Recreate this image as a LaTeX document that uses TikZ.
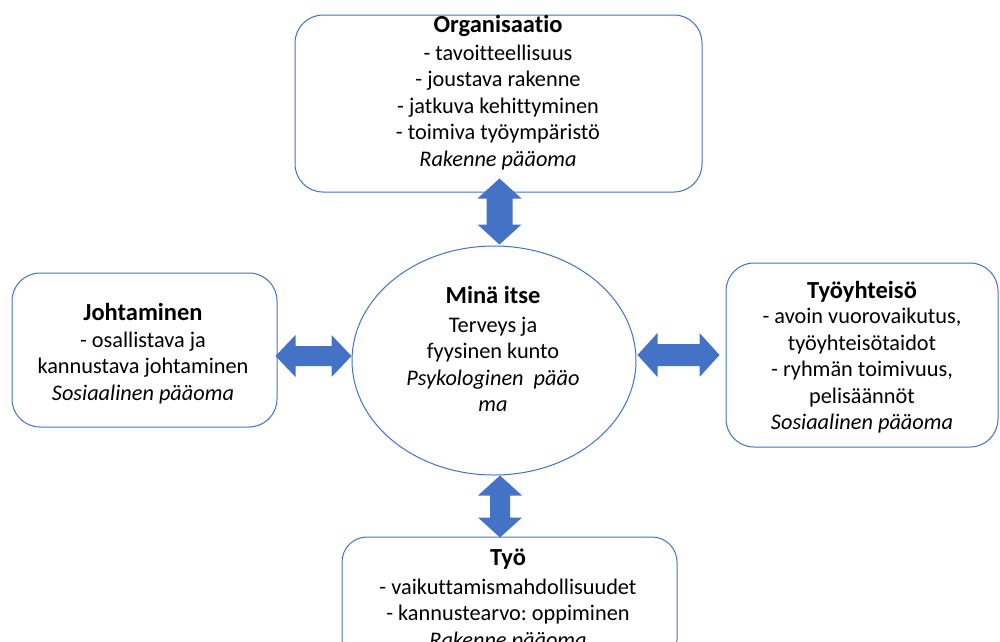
\documentclass[tikz,border=0pt]{standalone}
\usepackage{fontspec}
\setmainfont{Carlito}[Ligatures=NoCommon]
\frenchspacing
\usetikzlibrary{calc,shapes.geometric}
\definecolor{edge}{RGB}{68,114,196}
\definecolor{arr}{RGB}{68,114,196}
\newcommand\vdblarrow[5]{% top, bottom, head half, shaft half, head length
  \fill[arr] let \p1=(#1), \p2=(#2) in
    (\x1,\y1) -- (\x1+#3pt,\y1-#5pt) -- (\x1+#4pt,\y1-#5pt) -- (\x1+#4pt,\y2+#5pt)
    -- (\x1+#3pt,\y2+#5pt) -- (\x1,\y2) -- (\x1-#3pt,\y2+#5pt) -- (\x1-#4pt,\y2+#5pt)
    -- (\x1-#4pt,\y1-#5pt) -- (\x1-#3pt,\y1-#5pt) -- cycle;}
\newcommand\hdblarrow[5]{% left, right, head half, shaft half, head length
  \fill[arr] let \p1=(#1), \p2=(#2) in
    (\x1,\y1) -- (\x1+#5pt,\y1+#3pt) -- (\x1+#5pt,\y1+#4pt) -- (\x2-#5pt,\y1+#4pt)
    -- (\x2-#5pt,\y1+#3pt) -- (\x2,\y1) -- (\x2-#5pt,\y1-#3pt) -- (\x2-#5pt,\y1-#4pt)
    -- (\x1+#5pt,\y1-#4pt) -- (\x1+#5pt,\y1-#3pt) -- cycle;}
\newcommand\ttl[1]{{\fontsize{24.5}{26.5}\selectfont\bfseries\rule{0pt}{20pt}#1}}
\begin{document}
\begin{tikzpicture}[x=1pt,y=-1pt,
  box/.style={draw=edge, line width=1pt, rounded corners=28pt, fill=white, inner sep=0pt},
  oval/.style={draw=edge, line width=1pt, ellipse, fill=white, inner sep=0pt},
  txt/.style={align=center, inner sep=0pt, anchor=north, font=\fontsize{22.3}{26.5}\selectfont}]
\useasboundingbox (0,0) rectangle (1000,641);
\clip (0,0) rectangle (1000,641);
\fill[white] (0,0) rectangle (1000,641);

% boxes
\node[box, minimum width=407, minimum height=177] (org) at (498.5,103.5) {};
\node[box, minimum width=265, minimum height=154] (joh) at (144.5,350) {};
\node[box, minimum width=272, minimum height=184] (tyh) at (862,355) {};
\node[box, minimum width=335, minimum height=128, rounded corners=25pt] (tyo) at (509.5,601) {};
\node[oval, minimum width=284, minimum height=229] (me) at (494,360.5) {};

% texts
\node[txt] (orgt) at (498,12) {\ttl{Organisaatio}\\[1.5pt]
  - tavoitteellisuus\\ - joustava rakenne\\ - jatkuva kehittyminen\\
  - toimiva työympäristö\\ \textit{Rakenne pääoma}};
\node[txt] (joht) at (143,300) {\ttl{Johtaminen}\\[0.5pt]
  - osallistava ja\\ kannustava johtaminen\\ \textit{Sosiaalinen pääoma}};
\node[txt] (tyht) at (862,278) {\ttl{Työyhteisö}\\[-1pt]
  - avoin vuorovaikutus,\\ työyhteisötaidot\\ - ryhmän toimivuus,\\
  pelisäännöt\\ \textit{Sosiaalinen pääoma}};
\node[txt] (met) at (493,283) {\ttl{Minä itse}\\[2.5pt]
  Terveys ja\\ fyysinen kunto\\ \textit{Psykologinen\ \ pääo}\\ \textit{ma}};
\node[txt] (tyot) at (508,545) {\ttl{Työ}\\[2.5pt]
  - vaikuttamismahdollisuudet\\ - kannustearvo: oppiminen\\ \textit{Rakenne pääoma}};

% connector end points
\coordinate (t1) at ($(org.south)+(1,-14)$);
\coordinate (t2) at ($(me.north)+(0,-1)$);
\coordinate (b1) at ($(me.south)+(6,0)$);
\coordinate (b2) at ($(tyo.north)+(0,1)$);
\coordinate (l1) at ($(joh.east)+(-2,6)$);
\coordinate (l2) at (me.west);
\coordinate (r1) at ($(me.east)+(1,-5.5)$);
\coordinate (r2) at ($(tyh.west)+(-6,0)$);

% double arrows
\vdblarrow{t1}{t2}{22}{13}{20}
\vdblarrow{b1}{b2}{22}{10}{20}
\hdblarrow{l1}{l2}{21}{10}{20}
\hdblarrow{r1}{r2}{22}{11}{20}
\end{tikzpicture}
\end{document}
